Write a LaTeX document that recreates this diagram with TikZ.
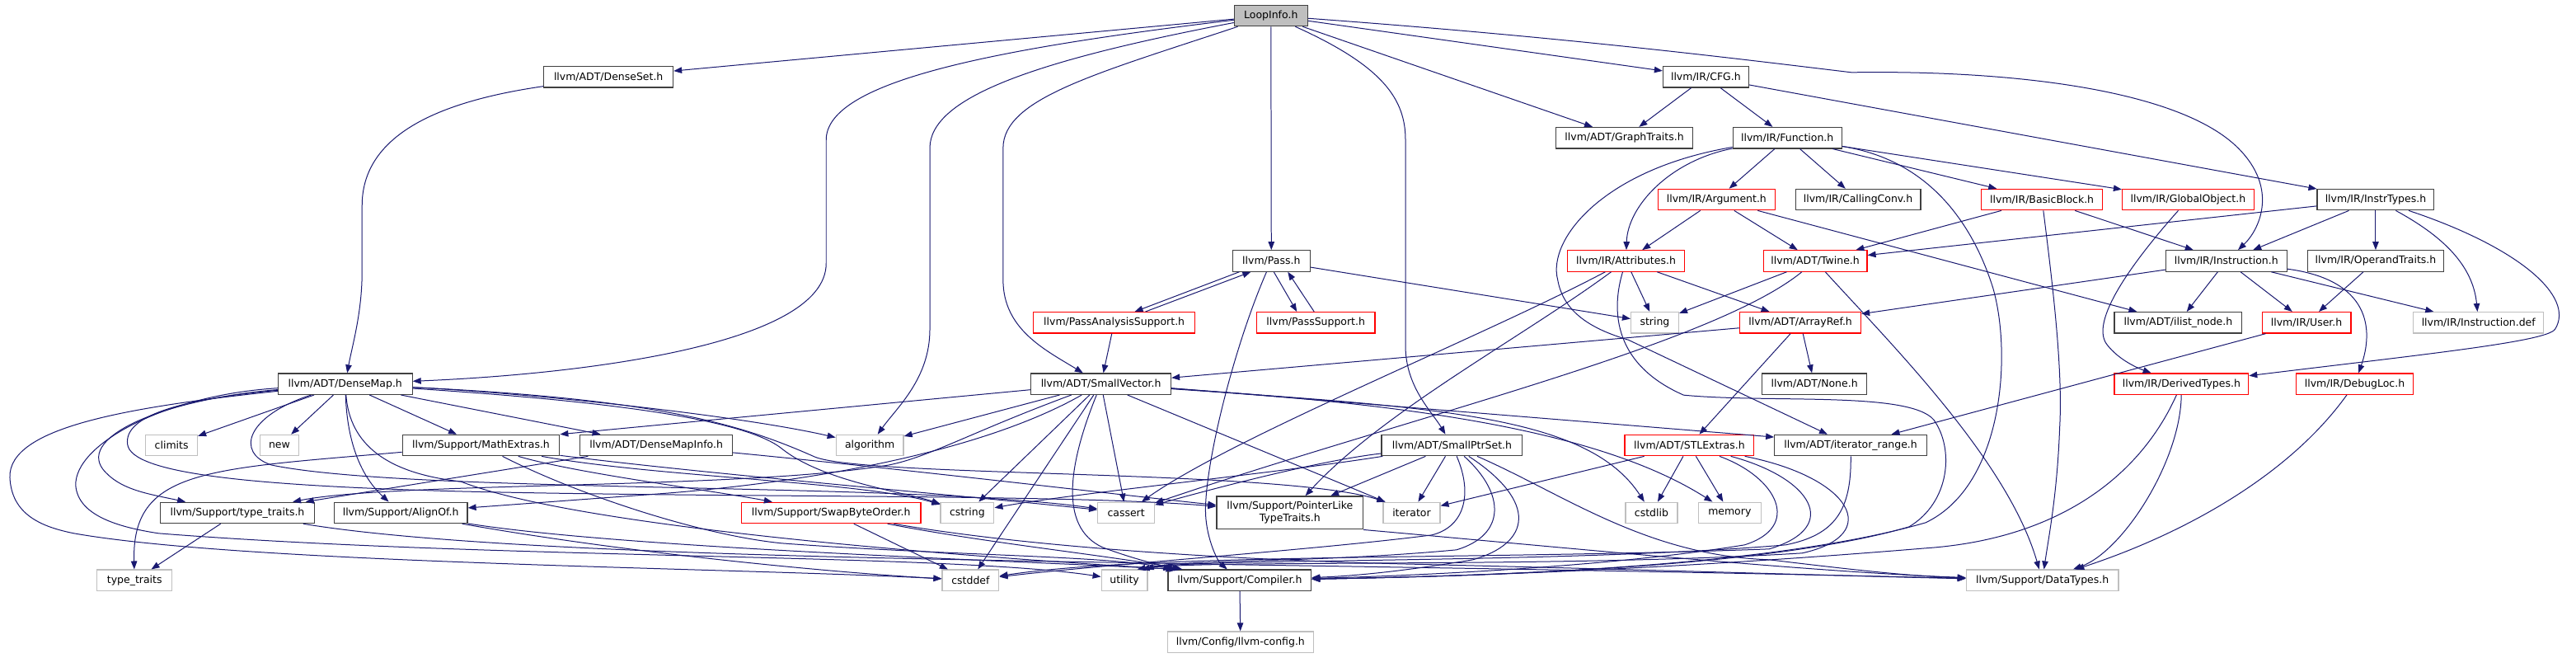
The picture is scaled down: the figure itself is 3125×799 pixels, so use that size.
\documentclass[tikz,border=0pt]{standalone}
\usepackage{fontspec}
\setmainfont{DejaVu Sans}
\usetikzlibrary{arrows.meta,calc}
\definecolor{edgecol}{HTML}{191970}
\definecolor{boxgray}{HTML}{BFBFBF}
\definecolor{boxdark}{HTML}{404040}
\definecolor{boxred}{HTML}{FF0000}
\begin{document}
\begin{tikzpicture}[x=1pt,y=-1pt,font=\fontsize{12.5}{15}\selectfont,
  box/.style={rectangle,inner sep=0pt,minimum height=25.5pt,line width=1.2pt,fill=white,text=black,align=center},
  nb/.style={box,draw=boxdark},
  nr/.style={box,draw=boxred},
  ng/.style={box,draw=boxgray},
  lnk/.style={draw=edgecol,line width=1pt,-{Triangle[length=10pt,width=7.5pt]}}]
\path[fill=white] (0,0) rectangle (3125,799);
% nodes
\node[nb,fill=boxgray,minimum width=89pt] (loopinfo) at (1544.5,19) {LoopInfo.h};
\node[nb,minimum width=157pt] (denseset) at (739.5,93.5) {llvm/ADT/DenseSet.h};
\node[nb,minimum width=104pt] (cfg) at (2073,93.5) {llvm/IR/CFG.h};
\node[nb,minimum width=166pt] (graphtraits) at (1974,167.5) {llvm/ADT/GraphTraits.h};
\node[nb,minimum width=132pt] (function) at (2172,167.5) {llvm/IR/Function.h};
\node[nr,minimum width=142pt] (argument) at (2086,242.5) {llvm/IR/Argument.h};
\node[nb,minimum width=152pt] (callingconv) at (2258,242.5) {llvm/IR/CallingConv.h};
\node[nr,minimum width=147pt] (basicblock) at (2481.5,242.5) {llvm/IR/BasicBlock.h};
\node[nr,minimum width=160pt] (globalobject) at (2659,242.5) {llvm/IR/GlobalObject.h};
\node[nb,minimum width=142pt] (instrtypes) at (2887,242.5) {llvm/IR/InstrTypes.h};
\node[nb,minimum width=94pt] (pass) at (1545,317) {llvm/Pass.h};
\node[nr,minimum width=142pt] (attributes) at (1976,317) {llvm/IR/Attributes.h};
\node[nr,minimum width=126pt] (twine) at (2206,317) {llvm/ADT/Twine.h};
\node[nb,minimum width=147pt] (instruction) at (2705.5,317) {llvm/IR/Instruction.h};
\node[nb,minimum width=166pt] (operandtraits) at (2887,317) {llvm/IR/OperandTraits.h};
\node[nr,minimum width=196pt] (passanalysis) at (1354,392) {llvm/PassAnalysisSupport.h};
\node[nr,minimum width=144pt] (passsupport) at (1599,392) {llvm/PassSupport.h};
\node[ng,minimum width=58pt] (string) at (2011,392) {string};
\node[nr,minimum width=147pt] (arrayref) at (2188,392) {llvm/ADT/ArrayRef.h};
\node[nb,minimum width=155pt] (ilistnode) at (2647,392) {llvm/ADT/ilist\_node.h};
\node[nr,minimum width=108pt] (user) at (2803,392) {llvm/IR/User.h};
\node[ng,minimum width=158pt] (instrdef) at (3012,392) {llvm/IR/Instruction.def};
\node[nb,minimum width=163pt] (densemap) at (419.5,466.5) {llvm/ADT/DenseMap.h};
\node[nb,minimum width=170pt] (smallvector) at (1338,466.5) {llvm/ADT/SmallVector.h};
\node[nb,minimum width=127pt] (none) at (2205,466.5) {llvm/ADT/None.h};
\node[nr,minimum width=163pt] (derivedtypes) at (2651,466.5) {llvm/IR/DerivedTypes.h};
\node[nr,minimum width=142pt] (debugloc) at (2861.5,466.5) {llvm/IR/DebugLoc.h};
\node[ng,minimum width=63pt] (climits) at (208.5,541) {climits};
\node[ng,minimum width=47pt] (new) at (339.5,541) {new};
\node[nb,minimum width=191pt] (mathextras) at (584.5,541) {llvm/Support/MathExtras.h};
\node[nb,minimum width=185pt] (densemapinfo) at (797.5,541) {llvm/ADT/DenseMapInfo.h};
\node[ng,minimum width=82pt] (algorithm) at (1057,541) {algorithm};
\node[nb,minimum width=171pt] (smallptrset) at (1764.5,541) {llvm/ADT/SmallPtrSet.h};
\node[nr,minimum width=157pt] (stlextras) at (2053,541) {llvm/ADT/STLExtras.h};
\node[nb,minimum width=185pt] (iteratorrange) at (2249,541) {llvm/ADT/iterator\_range.h};
\node[nb,minimum width=187pt] (typetraitsh) at (288.5,623) {llvm/Support/type\_traits.h};
\node[nb,minimum width=162pt] (alignof) at (487,623) {llvm/Support/AlignOf.h};
\node[nr,minimum width=218pt] (swapbyteorder) at (1010,623) {llvm/Support/SwapByteOrder.h};
\node[ng,minimum width=65pt] (cstring) at (1175.5,623) {cstring};
\node[ng,minimum width=69pt] (cassert) at (1368.5,623) {cassert};
\node[nb,minimum width=178pt,minimum height=40pt] (pointerlike) at (1567.5,623) {llvm/Support/PointerLike\\TypeTraits.h};
\node[ng,minimum width=69pt] (iterator) at (1715.5,623) {iterator};
\node[ng,minimum width=63pt] (cstdlib) at (2007,623) {cstdlib};
\node[ng,minimum width=76pt] (memory) at (2102,623) {memory};
\node[ng,minimum width=91pt] (typetraits) at (163.5,705) {type\_traits};
\node[ng,minimum width=69pt] (cstddef) at (1179.5,705) {cstddef};
\node[ng,minimum width=56pt] (utility) at (1366.5,705) {utility};
\node[nb,minimum width=174pt] (compiler) at (1506.5,705) {llvm/Support/Compiler.h};
\node[ng,minimum width=185pt] (datatypes) at (2482,705) {llvm/Support/DataTypes.h};
\node[ng,minimum width=177pt] (llvmconfig) at (1507.5,780) {llvm/Config/llvm-config.h};
% LoopInfo
\draw[lnk] (loopinfo) -- (denseset);
\draw[lnk] (loopinfo) .. controls (1200,60) and (1004,100) .. (1004,170) -- (1004,320) .. controls (1004,420) and (700,455) .. (densemap);
\draw[lnk] (loopinfo) .. controls (1250,75) and (1130,120) .. (1130,180) -- (1130,400) .. controls (1130,460) and (1090,495) .. (algorithm);
\draw[lnk] (loopinfo) .. controls (1330,90) and (1219,120) .. (1219,180) -- (1219,340) .. controls (1219,400) and (1270,425) .. (smallvector);
\draw[lnk] (loopinfo) -- (pass);
\draw[lnk] (loopinfo) .. controls (1680,80) and (1708,120) .. (1708,170) -- (1708,420) .. controls (1708,470) and (1740,500) .. (smallptrset);
\draw[lnk] (loopinfo) -- (graphtraits);
\draw[lnk] (loopinfo) -- (cfg);
\draw[lnk] (loopinfo) .. controls (1900,45) and (2100,70) .. (2250,88) .. controls (2450,85) and (2650,110) .. (2720,180) .. controls (2770,230) and (2745,280) .. (instruction);
% DenseSet
\draw[lnk] (denseset) .. controls (520,125) and (440,170) .. (440,250) -- (440,330) .. controls (440,380) and (428,420) .. (densemap);
% CFG
\draw[lnk] (cfg) -- (graphtraits);
\draw[lnk] (cfg) -- (function);
\draw[lnk] (cfg) -- (instrtypes);
% Function
\draw[lnk] (function) -- (argument);
\draw[lnk] (function) -- (callingconv);
\draw[lnk] (function) .. controls (2030,195) and (1978,250) .. (attributes);
\draw[lnk] (function) -- (basicblock);
\draw[lnk] (function) -- (globalobject);
\draw[lnk] (function) .. controls (2350,195) and (2400,280) .. (2422,350) .. controls (2445,430) and (2435,590) .. (2340,635) .. controls (2150,690) and (1800,700) .. (compiler);
\draw[lnk] (function) .. controls (1950,205) and (1880,290) .. (1893,340) .. controls (1900,380) and (1935,400) .. (1979,413) -- (iteratorrange);
% Attributes
\draw[lnk] (attributes) -- (string);
\draw[lnk] (attributes) -- (arrayref);
\draw[lnk] (attributes) .. controls (1800,410) and (1500,530) .. (cassert);
\draw[lnk] (attributes) .. controls (1850,410) and (1680,500) .. (pointerlike);
\draw[lnk] (attributes) .. controls (1960,370) and (1955,440) .. (2046,480) .. controls (2150,490) and (2320,475) .. (2350,510) .. controls (2375,545) and (2370,610) .. (2320,640) .. controls (2150,690) and (1800,700) .. (compiler);
% Argument
\draw[lnk] (argument) -- (attributes);
\draw[lnk] (argument) -- (twine);
\draw[lnk] (argument) -- (ilistnode);
% BasicBlock
\draw[lnk] (basicblock) -- (twine);
\draw[lnk] (basicblock) -- (instruction);
\draw[lnk] (basicblock) .. controls (2495,350) and (2507,450) .. (2503,520) .. controls (2500,600) and (2490,650) .. (datatypes);
% GlobalObject
\draw[lnk] (globalobject) .. controls (2590,320) and (2540,390) .. (2560,418) .. controls (2575,438) and (2600,448) .. (derivedtypes);
% InstrTypes
\draw[lnk] (instrtypes) -- (twine);
\draw[lnk] (instrtypes) -- (instruction);
\draw[lnk] (instrtypes) -- (operandtraits);
\draw[lnk] (instrtypes) .. controls (2965,285) and (3005,320) .. (instrdef);
\draw[lnk] (instrtypes) .. controls (3060,300) and (3130,360) .. (3105,400) .. controls (3095,415) and (2950,430) .. (derivedtypes);
% Instruction
\draw[lnk] (instruction) -- (arrayref);
\draw[lnk] (instruction) -- (ilistnode);
\draw[lnk] (instruction) -- (user);
\draw[lnk] (instruction) -- (instrdef);
\draw[lnk] (instruction) .. controls (2880,340) and (2885,400) .. (debugloc);
% OperandTraits, User
\draw[lnk] (operandtraits) -- (user);
\draw[lnk] (user) -- (iteratorrange);
% DerivedTypes, DebugLoc
\draw[lnk] (derivedtypes) .. controls (2650,560) and (2580,670) .. (datatypes);
\draw[lnk] (derivedtypes) .. controls (2600,580) and (2500,655) .. (2340,666) .. controls (2050,690) and (1800,700) .. (compiler);
\draw[lnk] (debugloc) .. controls (2780,580) and (2650,650) .. (datatypes);
% Twine
\draw[lnk] (twine) -- (string);
\draw[lnk] (twine) .. controls (2080,420) and (1700,510) .. (cassert);
\draw[lnk] (twine) .. controls (2300,420) and (2440,560) .. (datatypes);
% ArrayRef
\draw[lnk] (arrayref) -- (none);
\draw[lnk] (arrayref) -- (stlextras);
\draw[lnk] (arrayref) -- (smallvector);
% Pass
\draw[lnk] (pass) -- (string);
\draw[lnk] ([xshift=-39pt]pass.south) -- ([xshift=25pt]passanalysis.north);
\draw[lnk] ([xshift=38pt]passanalysis.north) -- ([xshift=-25pt]pass.south);
\draw[lnk] ([xshift=3pt]pass.south) -- ([xshift=-23pt]passsupport.north);
\draw[lnk] ([xshift=-2pt]passsupport.north) -- ([xshift=20pt]pass.south);
\draw[lnk] (pass) .. controls (1500,420) and (1465,560) .. (1465,620) .. controls (1465,650) and (1478,680) .. (compiler);
\draw[lnk] (passanalysis) -- (smallvector);
% SmallVector
\draw[lnk] ([yshift=-7pt]smallvector.west) -- (mathextras.north east);
\draw[lnk] (smallvector) -- (algorithm);
\draw[lnk] (smallvector) .. controls (1180,525) and (1130,555) .. (1080,565) .. controls (900,595) and (480,585) .. (typetraitsh);
\draw[lnk] (smallvector) .. controls (1200,545) and (1000,585) .. (800,600) -- (alignof);
\draw[lnk] (smallvector) -- (cstring);
\draw[lnk] (smallvector) -- (cstddef);
\draw[lnk] (smallvector) -- (cassert);
\draw[lnk] (smallvector) .. controls (1300,560) and (1285,640) .. (1340,665) .. controls (1380,680) and (1415,688) .. (compiler);
\draw[lnk] (smallvector) -- (iterator);
\draw[lnk] ([yshift=-5pt]smallvector.east) -- ($(iteratorrange.west)+(0,-10)$);
\draw[lnk] (smallvector) .. controls (1750,495) and (1930,505) .. (cstdlib);
\draw[lnk] (smallvector) .. controls (1700,490) and (1940,520) .. (memory);
% DenseMap
\draw[lnk] (densemap) -- (climits);
\draw[lnk] (densemap) -- (new);
\draw[lnk] (densemap) -- (mathextras);
\draw[lnk] (densemap) -- (densemapinfo);
\draw[lnk] (densemap) .. controls (422,540) and (440,580) .. (alignof);
\draw[lnk] (densemap) .. controls (200,485) and (95,530) .. (125,570) .. controls (145,595) and (180,600) .. (typetraitsh);
\draw[lnk] (densemap) .. controls (650,478) and (900,505) .. (algorithm);
\draw[lnk] (densemap) .. controls (700,485) and (900,505) .. (950,545) .. controls (1000,585) and (1100,598) .. (cstring);
\draw[lnk] (densemap) .. controls (800,485) and (900,515) .. (990,555) .. controls (1050,580) and (1560,570) .. ($(iterator.north west)+(3,0)$);
\draw[lnk] (densemap) .. controls (300,505) and (285,550) .. (330,565) .. controls (500,600) and (1100,585) .. (cassert);
\draw[lnk] (densemap) .. controls (220,485) and (150,505) .. (155,540) .. controls (160,575) and (300,590) .. (560,597) .. controls (900,605) and (1300,600) .. (pointerlike);
\draw[lnk] (densemap) .. controls (150,495) and (10,520) .. (12,580) .. controls (14,625) and (50,640) .. (90,648) .. controls (300,685) and (900,690) .. (cstddef);
\draw[lnk] (densemap) .. controls (200,480) and (90,540) .. (92,590) .. controls (95,625) and (140,640) .. (193,648) .. controls (600,680) and (1150,672) .. (utility);
\draw[lnk] (densemap) .. controls (425,540) and (470,575) .. (560,585) .. controls (700,640) and (1150,675) .. ($(compiler.north west)+(8,0)$);
% MathExtras
\draw[lnk] (mathextras) .. controls (250,570) and (160,570) .. (typetraits);
\draw[lnk] (mathextras) .. controls (700,575) and (860,595) .. (swapbyteorder);
\draw[lnk] (mathextras) .. controls (700,600) and (850,650) .. (950,660) .. controls (1150,675) and (1350,675) .. ($(compiler.north west)+(5,0)$);
\draw[lnk] (mathextras) .. controls (850,575) and (1150,600) .. (cassert);
\draw[lnk] (mathextras) .. controls (800,580) and (1050,585) .. (cstring);
% DenseMapInfo
\draw[lnk] (densemapinfo) -- (typetraitsh);
\draw[lnk] (densemapinfo) .. controls (1100,570) and (1350,600) .. (pointerlike);
% type_traits.h
\draw[lnk] (typetraitsh) -- (typetraits);
\draw[lnk] (typetraitsh) .. controls (600,675) and (1200,680) .. (1500,686) .. controls (1900,692) and (2200,698) .. (datatypes);
% AlignOf
\draw[lnk] (alignof) .. controls (750,665) and (1200,680) .. ($(compiler.north west)+(12,0)$);
\draw[lnk] (alignof) .. controls (750,670) and (1000,695) .. (cstddef);
% SwapByteOrder
\draw[lnk] (swapbyteorder) -- (cstddef);
\draw[lnk] (swapbyteorder) .. controls (1200,660) and (1350,675) .. ($(compiler.north west)+(18,0)$);
\draw[lnk] (swapbyteorder) .. controls (1250,665) and (1500,680) .. (1700,685) .. controls (2000,692) and (2250,700) .. (datatypes);
% PointerLikeTypeTraits
\draw[lnk] (pointerlike.south east) .. controls (1900,665) and (2200,695) .. (datatypes);
% SmallPtrSet
\draw[lnk] (smallptrset) .. controls (1600,560) and (1470,595) .. (cassert);
\draw[lnk] (smallptrset) .. controls (1550,575) and (1300,600) .. (cstring);
\draw[lnk] (smallptrset) -- (pointerlike);
\draw[lnk] (smallptrset) -- (iterator);
\draw[lnk] (smallptrset) .. controls (1790,600) and (1780,640) .. (1740,650) .. controls (1600,668) and (1350,685) .. (cstddef);
\draw[lnk] (smallptrset) .. controls (1830,600) and (1830,650) .. (1770,668) .. controls (1600,684) and (1430,680) .. ($(utility.north east)+(-3,0)$);
\draw[lnk] (smallptrset) .. controls (1870,610) and (1860,660) .. (1790,680) .. controls (1700,695) and (1640,700) .. (compiler);
\draw[lnk] (smallptrset) .. controls (1900,600) and (2000,675) .. (2150,680) .. controls (2250,692) and (2320,700) .. (datatypes);
% STLExtras
\draw[lnk] (stlextras) -- (iterator);
\draw[lnk] (stlextras) -- (cstdlib);
\draw[lnk] (stlextras) -- (memory);
\draw[lnk] (stlextras) .. controls (2160,580) and (2190,640) .. (2120,662) .. controls (1950,690) and (1700,700) .. (compiler);
\draw[lnk] (stlextras) .. controls (2200,580) and (2240,640) .. (2150,667) .. controls (1800,680) and (1400,672) .. (cstddef);
\draw[lnk] (stlextras) .. controls (2250,580) and (2290,650) .. (2190,672) .. controls (1900,690) and (1450,680) .. ($(utility.north east)+(-8,0)$);
% iterator_range
\draw[lnk] (iteratorrange) .. controls (2250,620) and (2230,650) .. (2170,662) .. controls (1900,685) and (1450,678) .. ($(utility.north east)+(-13,0)$);
% Compiler
\draw[lnk] (compiler) -- (llvmconfig);
\end{tikzpicture}
\end{document}
